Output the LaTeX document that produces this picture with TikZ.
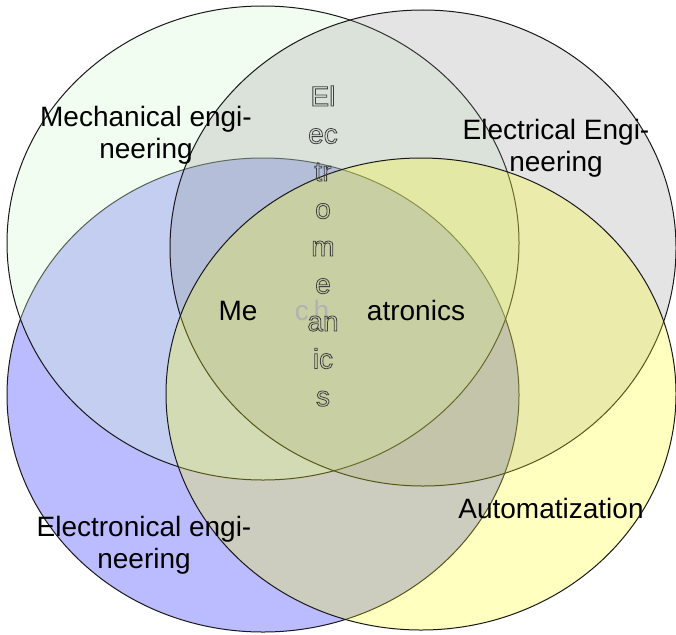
\documentclass[tikz,border=0pt]{standalone}
\usepackage{fontspec}
\setmainfont{Liberation Sans}
\usetikzlibrary{positioning}
\definecolor{MechGreen}{RGB}{214,249,214}
\definecolor{ElecGray}{RGB}{138,138,138}
\definecolor{TronBlue}{RGB}{187,187,255}
\definecolor{AutoYellow}{RGB}{255,255,17}
% stroked (hollow) letters
\newcommand{\hollow}[1]{\special{pdf:literal direct 1 Tr 0.8 w 0.25 G}#1\special{pdf:literal direct 0 Tr}}

\begin{document}
\begin{tikzpicture}[x=1pt, y=-1pt,
                    field/.style={draw=black!90, line width=1pt},
                    every node/.style={font=\fontsize{28}{32}\selectfont, align=center, inner sep=0pt}]
  \useasboundingbox (0,0) rectangle (676,634);
  % the four fields
  \path[field, fill=TronBlue] (263,395) ellipse [x radius=256pt, y radius=237pt];
  \path[field, fill=MechGreen, fill opacity=0.32] (263,243) ellipse [x radius=256pt, y radius=237pt];
  \path[field, fill=ElecGray, fill opacity=0.23] (423,248) ellipse [x radius=253pt, y radius=238pt];
  \path[field, fill=AutoYellow, fill opacity=0.265] (421,394) ellipse [x radius=255pt, y radius=236pt];
  % labels
  \node (mech) at (146,135) {Mechanical engi-\\neering};
  \node (elec) at (556,148) {Electrical Engi-\\neering};
  \node (tron) at (144,545) {Electronical engi-\\neering};
  \node (auto) at (551,508) {Automatization};
  \node[anchor=base] (me) at (238,320) {Me};
  \node[anchor=base, text=black!30] (ch) at (312,320) {c\,h};
  \node[anchor=base] (atro) at (416,320) {atronics};
  \foreach \part [count=\i] in {El,ec,tr,o,m,e,an,ic,s}
    \node[anchor=base] (em\i) at (323,106+37.5*\i-37.5) {\hollow{\part}};
\end{tikzpicture}
\end{document}
